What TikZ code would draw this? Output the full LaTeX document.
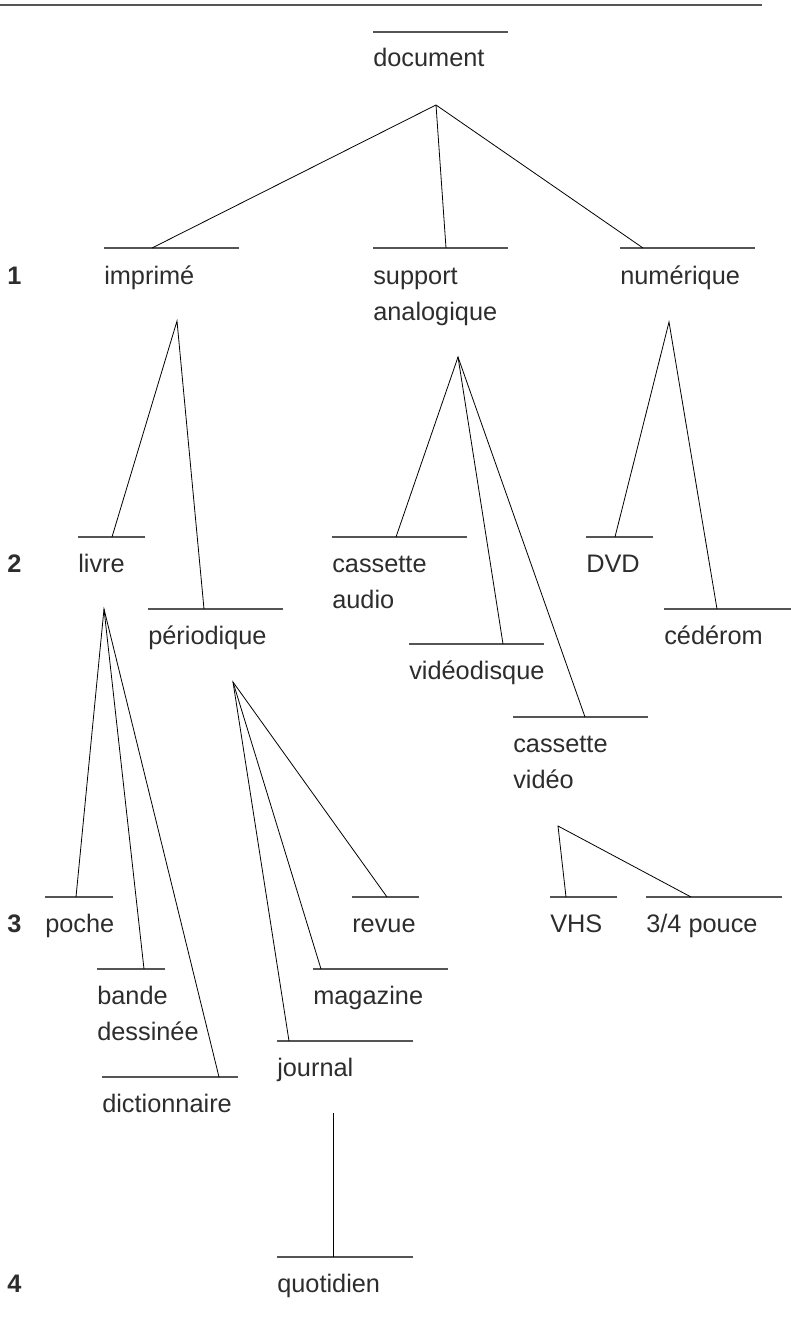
\documentclass[tikz,border=0pt]{standalone}
\usepackage{fontspec}
\setsansfont{Liberation Sans}
\usepackage{tikz}
\usepackage{xcolor}
\usetikzlibrary{positioning}
\definecolor{txtgray}{RGB}{45,45,45}
\definecolor{bargray}{RGB}{85,85,85}

\begin{document}
\begin{tikzpicture}[x=0.75pt,y=-0.75pt,every node/.style={font=\sffamily\fontsize{19pt}{27pt}\selectfont}]
  \tikzset{
    lbl/.style={anchor=base west,inner sep=0pt,text=txtgray,align=left},
    lvl/.style={anchor=base west,inner sep=0pt,text=txtgray,font=\sffamily\bfseries\fontsize{19pt}{27pt}\selectfont},
    bar/.style={draw=bargray,line width=1pt},
    conn/.style={draw=black,line width=0.6pt}
  }
  \useasboundingbox (0,0) rectangle (791,1326);
  \draw[bar,line width=1.1pt] (0,5) -- (762,5);

  % niveaux
  \node[lvl] (n1) at (7,285) {1};
  \node[lvl] (n2) at (7,572) {2};
  \node[lvl] (n3) at (7,932) {3};
  \node[lvl] (n4) at (7,1292) {4};

  % barres
  \draw[bar] (373,32) -- ++(135,0);
  \draw[bar] (104,248) -- ++(135,0);
  \draw[bar] (373,248) -- ++(135,0);
  \draw[bar] (620,248) -- ++(135,0);
  \draw[bar] (78,537) -- ++(67,0);
  \draw[bar] (148,609) -- ++(135,0);
  \draw[bar] (332,537) -- ++(135,0);
  \draw[bar] (409,644) -- ++(135,0);
  \draw[bar] (513,717) -- ++(135,0);
  \draw[bar] (586,537) -- ++(67,0);
  \draw[bar] (664,609) -- (791,609);
  \draw[bar] (45,897) -- ++(68,0);
  \draw[bar] (352,897) -- ++(67,0);
  \draw[bar] (550,897) -- ++(67,0);
  \draw[bar] (646,897) -- ++(136,0);
  \draw[bar] (97,969) -- ++(68,0);
  \draw[bar] (313,969) -- ++(135,0);
  \draw[bar] (277,1041) -- ++(136,0);
  \draw[bar] (102,1077) -- ++(136,0);
  \draw[bar] (277,1257) -- ++(136,0);

  % libelles (base = derniere ligne)
  \node[lbl] (document) at (373,67) {document};
  \node[lbl] (imprime) at (104,285) {imprimé};
  \node[lbl] (support) at (373,321) {support\\analogique};
  \node[lbl] (numerique) at (620,285) {numérique};
  \node[lbl] (livre) at (78,572) {livre};
  \node[lbl] (periodique) at (148,644) {périodique};
  \node[lbl] (audio) at (332,608) {cassette\\audio};
  \node[lbl] (videodisque) at (409,679) {vidéodisque};
  \node[lbl] (video) at (513,788) {cassette\\vidéo};
  \node[lbl] (dvd) at (586,572) {DVD};
  \node[lbl] (cederom) at (664,644) {cédérom};
  \node[lbl] (poche) at (45,932) {poche};
  \node[lbl] (revue) at (352,932) {revue};
  \node[lbl] (vhs) at (550,932) {VHS};
  \node[lbl] (pouce) at (646,932) {3/4 pouce};
  \node[lbl] (bd) at (97,1040) {bande\\dessinée};
  \node[lbl] (magazine) at (313,1004) {magazine};
  \node[lbl] (journal) at (277,1076) {journal};
  \node[lbl] (dico) at (102,1112) {dictionnaire};
  \node[lbl] (quotidien) at (277,1292) {quotidien};

  % sommets
  \coordinate (s-doc) at (436,105);
  \coordinate (s-imp) at (177,321);
  \coordinate (s-sup) at (458,357);
  \coordinate (s-num) at (669,322);
  \coordinate (s-liv) at (104,609);
  \coordinate (s-per) at (233,682);
  \coordinate (s-cv) at (558,826);
  \coordinate (s-jou) at (333,1113);

  % points d'attache
  \coordinate (t-imp) at (152,248);
  \coordinate (t-sup) at (446,248);
  \coordinate (t-num) at (643,248);
  \coordinate (t-liv) at (112,537);
  \coordinate (t-per) at (204,609);
  \coordinate (t-aud) at (396,537);
  \coordinate (t-vdi) at (503,644);
  \coordinate (t-cv) at (585,717);
  \coordinate (t-dvd) at (615,537);
  \coordinate (t-ced) at (717,609);
  \coordinate (t-poc) at (76,897);
  \coordinate (t-rev) at (387,897);
  \coordinate (t-vhs) at (566,897);
  \coordinate (t-pou) at (691,897);
  \coordinate (t-bd) at (144,969);
  \coordinate (t-mag) at (321,969);
  \coordinate (t-jou) at (289,1041);
  \coordinate (t-dic) at (219,1077);
  \coordinate (t-quo) at (333,1257);

  \draw[conn] (t-imp) -- (s-doc) -- (t-num);
  \draw[conn] (s-doc) -- (t-sup);
  \draw[conn] (t-liv) -- (s-imp) -- (t-per);
  \draw[conn] (t-aud) -- (s-sup) -- (t-cv);
  \draw[conn] (s-sup) -- (t-vdi);
  \draw[conn] (t-dvd) -- (s-num) -- (t-ced);
  \draw[conn] (t-poc) -- (s-liv) -- (t-dic);
  \draw[conn] (s-liv) -- (t-bd);
  \draw[conn] (t-jou) -- (s-per) -- (t-rev);
  \draw[conn] (s-per) -- (t-mag);
  \draw[conn] (t-vhs) -- (s-cv) -- (t-pou);
  \draw[conn] (s-jou) -- (t-quo);
\end{tikzpicture}
\end{document}
